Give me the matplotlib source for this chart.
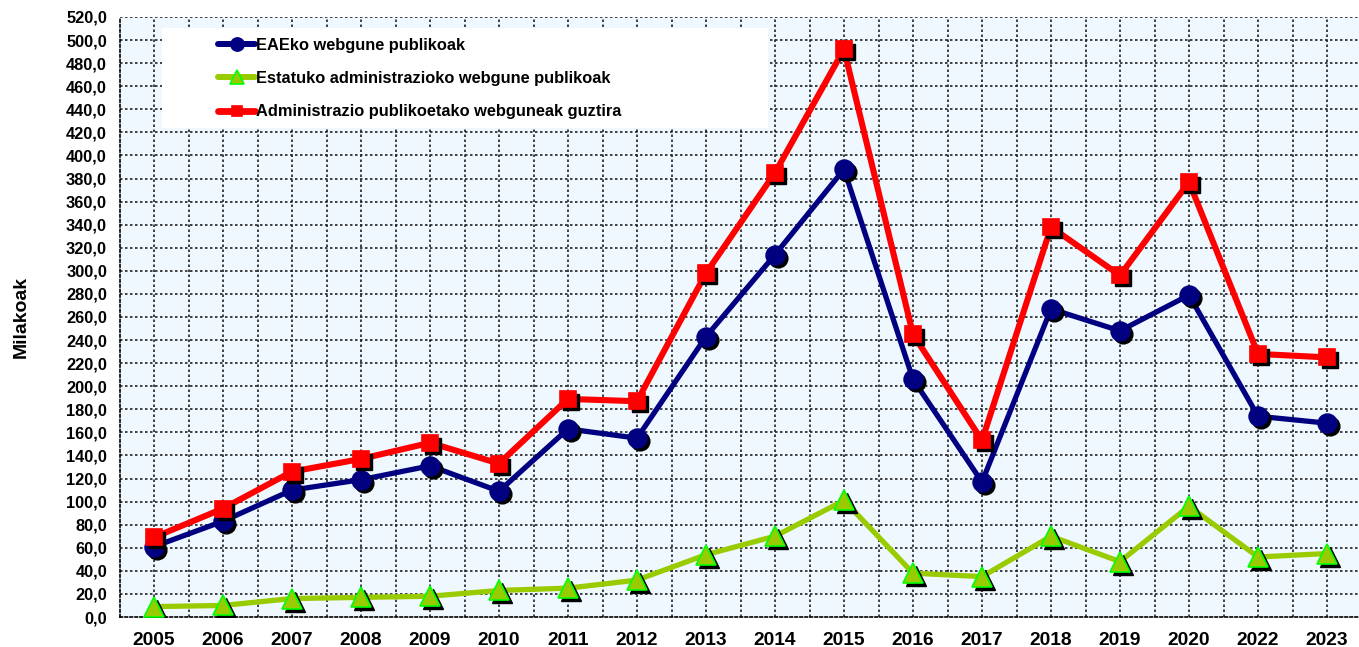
import matplotlib.pyplot as plt
import matplotlib.transforms as mtransforms
from matplotlib.patches import Rectangle

years = ["2005", "2006", "2007", "2008", "2009", "2010", "2011", "2012", "2013",
         "2014", "2015", "2016", "2017", "2018", "2019", "2020", "2022", "2023"]
eae = [61, 83, 110, 119, 131, 109, 163, 155, 243, 314, 388, 206, 117, 267, 248, 279, 174, 168]
estatu = [9, 10, 16, 17, 18, 23, 25, 32, 54, 70, 101, 38, 35, 70, 48, 96, 52, 55]
guztira = [69, 94, 126, 137, 151, 133, 189, 187, 298, 385, 492, 245, 153, 338, 296, 377, 228, 225]

labels = ["EAEko webgune publikoak",
          "Estatuko administrazioko webgune publikoak",
          "Administrazio publikoetako webguneak guztira"]

plt.rcParams['font.family'] = ['Liberation Sans', 'DejaVu Sans']

W, H = 1359, 647
fig = plt.figure(figsize=(W / 100, H / 100), dpi=100)
left, top, bottom = 119.5, 17, 617
ax = fig.add_axes([left / W, (H - bottom) / H, (W - left) / W, (bottom - top) / H])
ax.set_facecolor('#F0F8FF')

x = list(range(len(years)))
shadow = mtransforms.offset_copy(ax.transData, fig=fig, x=3, y=-3, units='dots')

series = [
    (eae, '#000080', 'o', 13.5, '#000080', 3.8),
    (estatu, '#99CC00', '^', 14, '#00FF00', 3.8),
    (guztira, '#FF0000', 's', 11, '#FF0000', 4.4),
]
handles = []
for i, (vals, col, mk, ms, ec, lw) in enumerate(series):
    ax.plot(x, vals, color=col, lw=lw, zorder=3 + 3 * i, solid_capstyle='round')
    ax.plot(x, vals, ls='none', marker=mk, ms=ms, color='black', mec='black',
            transform=shadow, zorder=4 + 3 * i)
    ax.plot(x, vals, ls='none', marker=mk, ms=ms, color=col, mec=ec, mew=1.2,
            zorder=5 + 3 * i)
    h, = ax.plot([], [], color=col, lw=lw + 0.5, marker=mk, ms=ms * 0.7,
                 mfc=col, mec=ec, mew=1.2, solid_capstyle='round')
    handles.append(h)

ax.set_xlim(-0.5, -0.5 + (W - left) / 69.0)
ax.set_ylim(0, 520)
ax.set_yticks(range(0, 521, 20))
ax.set_yticklabels([f"{v},0" for v in range(0, 521, 20)], fontsize=11.8, fontweight='bold')
ax.set_xticks(x)
ax.set_xticklabels(years, fontsize=13.8, fontweight='bold')
ax.tick_params(length=0)
ax.tick_params(axis='y', pad=9)
ax.tick_params(axis='x', pad=11)

# dotted grid at category centres and boundaries
for gx in [k * 0.5 - 0.5 for k in range(1, 2 * len(years) + 2)]:
    ax.axvline(gx, color='#222222', ls=(0, (1.5, 1.5)), lw=1.2, zorder=1)
for gy in range(20, 521, 20):
    ax.axhline(gy, color='#222222', ls=(0, (1.5, 1.5)), lw=1.2, zorder=1)
for s in ['top', 'right']:
    ax.spines[s].set_visible(False)
for s in ['left', 'bottom']:
    ax.spines[s].set_linestyle((0, (1.5, 1.5)))
    ax.spines[s].set_linewidth(1.2)

ax.set_ylabel("Milakoak", fontsize=14, fontweight='bold', labelpad=26)

fig.patches.append(Rectangle((162 / W, 1 - 128 / H), (768 - 162) / W, 100 / H,
                             transform=fig.transFigure, facecolor='white',
                             edgecolor='none', zorder=20))
leg = fig.legend(handles, labels, loc='upper left', bbox_to_anchor=(203 / W, 1 - 23 / H),
                 frameon=False, prop={'weight': 'bold', 'size': 11.8},
                 handlelength=2.3, handletextpad=0.05, labelspacing=1.12)
leg.set_zorder(21)

fig.savefig("out.png", dpi=100)
